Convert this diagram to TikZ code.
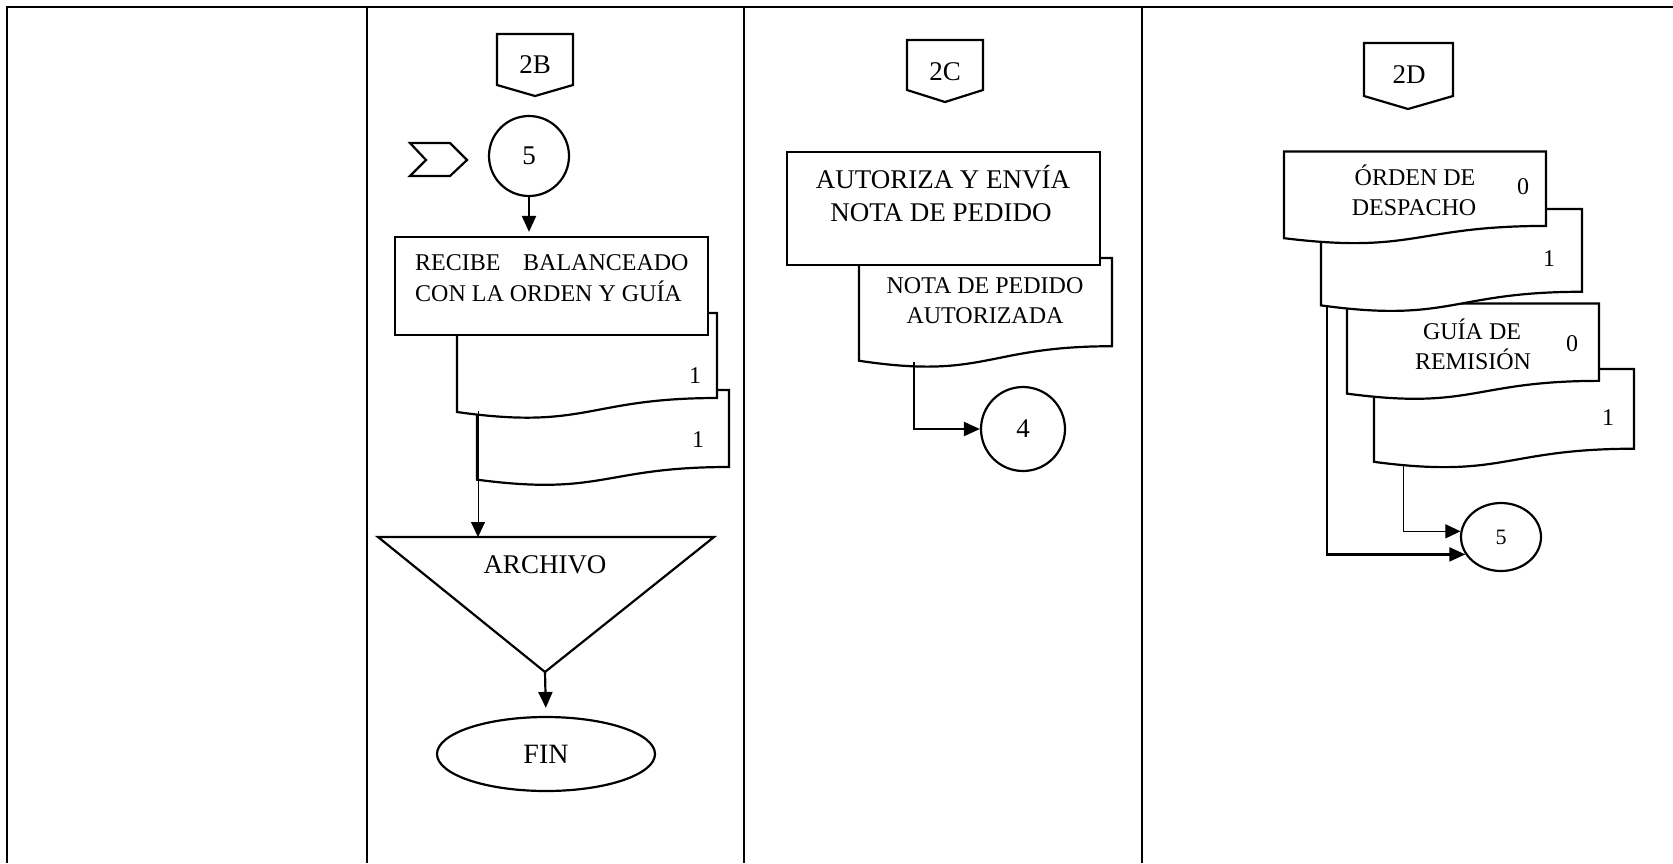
\documentclass[tikz,border=0pt]{standalone}
\usepackage{fontspec}
\setmainfont{Liberation Serif}
\usetikzlibrary{arrows.meta,shapes.geometric}
\newcommand{\docshp}[4]{%
  \pgfmathsetmacro\docRy{#2+0.802*#4}%
  \pgfmathsetmacro\docLy{#2+0.934*#4}%
  \pgfmathsetmacro\docCy{#2+1.1075*#4}%
  \pgfmathsetmacro\docMx{(#1+#3)/2}%
  \draw[shp] (#1,#2) -- (#3,#2) -- (#3,\docRy) .. controls (\docMx,\docRy) and (\docMx,\docCy) .. (#1,\docLy) -- cycle;}
\begin{document}
\begin{tikzpicture}[x=1pt,y=-1pt,
  frame/.style={line width=2.4pt},
  shp/.style={draw,line width=2.2pt,fill=white,line join=miter},
  thk/.style={line width=2.2pt,-{Triangle[length=16pt,width=14pt]}},
  thn/.style={line width=1pt,-{Triangle[length=15pt,width=14pt]}},
  tx/.style={inner sep=0pt,anchor=base},
  fa/.style={tx,font=\fontsize{24}{28}\selectfont},
  fb/.style={tx,font=\fontsize{27}{30}\selectfont},
  conn/.style={circle,draw,line width=2.2pt,inner sep=0pt,fill=white}
]
\useasboundingbox (0,0) rectangle (1673,863);
% frame
\draw[frame] (7,7) -- (1673,7);
\draw[frame] (7,6) -- (7,863);
\draw[frame] (367,7) -- (367,863);
\draw[frame] (744,7) -- (744,863);
\draw[frame] (1142,7) -- (1142,863);

% ---------- column 2B ----------
\draw[shp] (497,34) -- (573,34) -- (573,85) -- (535,96) -- (497,85) -- cycle;
\node[fb] (t2b) at (535,73) {2B};
\draw[shp] (410,143) -- (450,143) -- (467,160) -- (450,176) -- (410,176) -- (426,160) -- cycle;
\node[conn,minimum size=80pt,font=\fontsize{27}{30}\selectfont] (c5) at (529,156) {5};
\docshp{477}{390}{729}{96}
\docshp{457}{313}{717}{106}
\node[draw,line width=2.2pt,fill=white,minimum width=313pt,minimum height=98pt,inner sep=0pt] (rec) at (551.5,286) {};
\node[fa,anchor=base west] (recA) at (415,270) {RECIBE\hspace{22.7pt}BALANCEADO};
\node[fa,anchor=base west] (recB) at (415,301) {CON LA ORDEN Y GUÍA};
\draw[thk,shorten >=4pt] (c5.south) -- (c5.south |- rec.north);
\node[fa] (n1a) at (695,383) {1};
\node[fa] (n1b) at (698,447) {1};
\coordinate (a1) at (478,411);
\coordinate (triL) at (378,537);
\coordinate (triR) at (714,537);
\coordinate (triB) at (545,672);
\draw[shp] (triL) -- (triR) -- (triB) -- cycle;
\node[fb] (arch) at (545,573) {ARCHIVO};
\draw[thn] (a1) -- (a1 |- triL);
\node[ellipse,draw,line width=2.2pt,minimum width=218pt,minimum height=74pt,inner sep=0pt,font=\fontsize{28}{30}\selectfont] (fin) at (546,754) {FIN};
\draw[thk,shorten >=8pt] (triB) -- (fin.north);

% ---------- column 2C ----------
\draw[shp] (907,40) -- (983,40) -- (983,90) -- (945,102) -- (907,90) -- cycle;
\node[fb] (t2c) at (945,80) {2C};
\docshp{859}{258}{1112}{110}
\node[draw,line width=2.2pt,fill=white,minimum width=313pt,minimum height=113pt,inner sep=0pt] (aut) at (943.5,208.5) {};
\node[fb] (autA) at (943,188) {AUTORIZA Y ENVÍA};
\node[fb] (autB) at (941,221) {NOTA DE PEDIDO};
\node[fa] (npA) at (985,293) {NOTA DE PEDIDO};
\node[fa] (npB) at (985,323) {AUTORIZADA};
\node[conn,minimum size=84pt,font=\fontsize{27}{30}\selectfont] (c4) at (1023,429) {4};
\coordinate (cC) at (914,362);
\draw[thk] (cC) |- (c4.west);

% ---------- column 2D ----------
\draw[shp] (1364,43) -- (1453,43) -- (1453,96) -- (1408,109) -- (1364,96) -- cycle;
\node[fb] (t2d) at (1409,83) {2D};
\docshp{1374}{369}{1634}{99.4}
\docshp{1347}{303.4}{1599}{96.6}
\node[fa] (grA) at (1472,339.5) {GUÍA DE};
\node[fa] (grB) at (1473,369) {REMISIÓN};
\node[fa] (gr0) at (1572,351) {0};
\node[fa] (gr1) at (1608,425.5) {1};
\docshp{1321}{209}{1582}{103.2}
\docshp{1284}{151.5}{1546}{92.8}
\node[fa] (odA) at (1415,185.5) {ÓRDEN DE};
\node[fa] (odB) at (1414,215) {DESPACHO};
\node[fa] (od0) at (1523,194) {0};
\node[fa] (od1) at (1549,266) {1};
\node[ellipse,draw,line width=2.2pt,minimum width=80pt,minimum height=68pt,inner sep=0pt,font=\fontsize{22}{24}\selectfont] (e5) at (1501,537) {5};
\coordinate (cA) at (1403,466);
\coordinate (cB) at (1327,306);
\draw[thn] (cA) |- (e5.172);
\draw[thk] (cB) |- (e5.206);
\end{tikzpicture}
\end{document}
